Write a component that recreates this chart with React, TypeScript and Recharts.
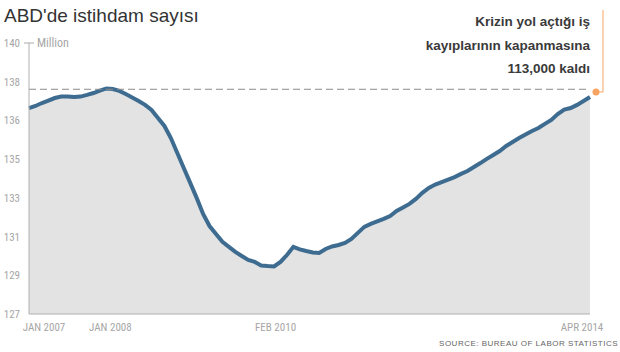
import React from "react";
import {
	AreaChart,
	Area,
	XAxis,
	YAxis,
	ReferenceLine,
	ReferenceDot,
} from "recharts";

// Monthly nonfarm payroll employment, millions
const employment = [
	136.88, 136.98, 137.12, 137.24, 137.36, 137.43, 137.43, 137.41, 137.43, 137.51,
	137.6, 137.72, 137.82, 137.79, 137.7, 137.55, 137.39, 137.22, 137.03, 136.79,
	136.4, 136.02, 135.44, 134.72, 134.0, 133.29, 132.57, 131.8, 131.22, 130.84,
	130.46, 130.22, 129.98, 129.78, 129.59, 129.5, 129.33, 129.3, 129.28, 129.5,
	129.83, 130.22, 130.1, 130.02, 129.95, 129.93, 130.12, 130.24, 130.31, 130.41,
	130.6, 130.89, 131.18, 131.32, 131.44, 131.56, 131.7, 131.94, 132.11, 132.28,
	132.52, 132.81, 133.05, 133.21, 133.33, 133.45, 133.57, 133.72, 133.86, 134.05,
	134.24, 134.44, 134.63, 134.82, 135.06, 135.25, 135.44, 135.61, 135.78, 135.92,
	136.12, 136.31, 136.59, 136.81, 136.88, 137.03, 137.22, 137.41,
];

const monthNames = ["JAN", "FEB", "MAR", "APR", "MAY", "JUN", "JUL", "AUG", "SEP", "OCT", "NOV", "DEC"];
const months = employment.map((_, i) => `${monthNames[i % 12]} ${2007 + Math.floor(i / 12)}`);

const xTickLabels = ["JAN 2007", "JAN 2008", "FEB 2010", "APR 2014"];
const yTickLabels = ["127", "129", "131", "133", "135", "136", "138", "140"];
const preCrisisPeak = 137.78;
const latestMarker = 137.65;

const Y_MIN = 127;
const Y_MAX = 140;

const chartData = employment.map((v, i) => ({ idx: i, month: months[i], value: v }));
const xTicks = xTickLabels.map((l) => months.indexOf(l));
const yTicks = yTickLabels.map((_, i) => Y_MIN + (i * (Y_MAX - Y_MIN)) / (yTickLabels.length - 1));

// small horizontal nudges so labels sit where the original put them
const xTickNudge = [15, 4, 8, -8];

const axisFont = "'Liberation Sans Narrow', 'Roboto Condensed', 'DejaVu Sans Condensed', Arial, sans-serif";

function XTick(props: any) {
	const { x, y, payload, index } = props;
	return (
		<text
			x={x + (xTickNudge[index] || 0)}
			y={y}
			dy={9}
			textAnchor="middle"
			fill="#a6a6a6"
			fontSize={11}
			fontFamily={axisFont}
		>
			{xTickLabels[index] ?? payload.value}
		</text>
	);
}

function YTick(props: any) {
	const { x, y, index } = props;
	const isTop = index === yTickLabels.length - 1;
	return (
		<g>
			<text x={x - 1} y={y} dy={4} textAnchor="end" fill="#a6a6a6" fontSize={11} fontFamily={axisFont}>
				{yTickLabels[index]}
			</text>
			{isTop && (
				<>
					<line x1={x + 3} x2={x + 13} y1={y} y2={y} stroke="#aaa" strokeWidth={1} />
					<text x={x + 16} y={y} dy={4} fill="#a6a6a6" fontSize={12} fontFamily={axisFont}>
						Million
					</text>
				</>
			)}
		</g>
	);
}

function MarkerShape(props: any) {
	const { cx, cy } = props;
	const dotX = cx + 6;
	return (
		<g>
			<path
				d={`M${dotX},${cy} H${dotX + 7} V10`}
				fill="none"
				stroke="#f7a462"
				strokeWidth={1}
			/>
			<circle cx={dotX} cy={cy} r={3.5} fill="#f7a462" />
		</g>
	);
}

export default function App() {
	return (
		<div style={{ position: "relative", width: 620, height: 352, background: "#fff", fontFamily: "'Liberation Sans', Arial, sans-serif" }}>
			<style>{"body{margin:0}"}</style>
			<AreaChart
				width={620}
				height={352}
				data={chartData}
				margin={{ top: 43, right: 30, left: 0, bottom: 0 }}
			>
				<XAxis
					dataKey="idx"
					type="number"
					domain={[0, employment.length - 1]}
					ticks={xTicks}
					interval={0}
					height={38}
					tickLine={false}
					axisLine={{ stroke: "#b0b0b0" }}
					tick={<XTick />}
				/>
				<YAxis
					domain={[Y_MIN, Y_MAX]}
					ticks={yTicks}
					interval={0}
					width={29}
					tickLine={false}
					axisLine={{ stroke: "#b0b0b0" }}
					tick={<YTick />}
					allowDataOverflow
				/>
				<Area
					type="linear"
					dataKey="value"
					stroke="#3e6c91"
					strokeWidth={4}
					fill="#e3e3e3"
					fillOpacity={1}
					baseValue={Y_MIN}
					dot={false}
					activeDot={false}
					isAnimationActive={false}
				/>
				<ReferenceLine y={preCrisisPeak} stroke="#8a8a8a" strokeDasharray="7 4" strokeWidth={1} />
				<ReferenceDot
					x={employment.length - 1}
					y={latestMarker}
					shape={<MarkerShape />}
				/>
			</AreaChart>
			<div
				style={{
					position: "absolute",
					left: 4,
					top: 5,
					fontSize: 19,
					color: "#333",
				}}
			>
				ABD'de istihdam sayısı
			</div>
			<div
				style={{
					position: "absolute",
					right: 30,
					top: 10,
					textAlign: "right",
					fontSize: 13.5,
					fontWeight: "bold",
					lineHeight: "23.7px",
					color: "#3a3a3a",
				}}
			>
				Krizin yol açtığı iş
				<br />
				kayıplarının kapanmasına
				<br />
				113,000 kaldı
			</div>
			<div
				style={{
					position: "absolute",
					right: 2,
					top: 339,
					fontSize: 8,
					letterSpacing: 0.5,
					color: "#666",
				}}
			>
				SOURCE: BUREAU OF LABOR STATISTICS
			</div>
		</div>
	);
}
